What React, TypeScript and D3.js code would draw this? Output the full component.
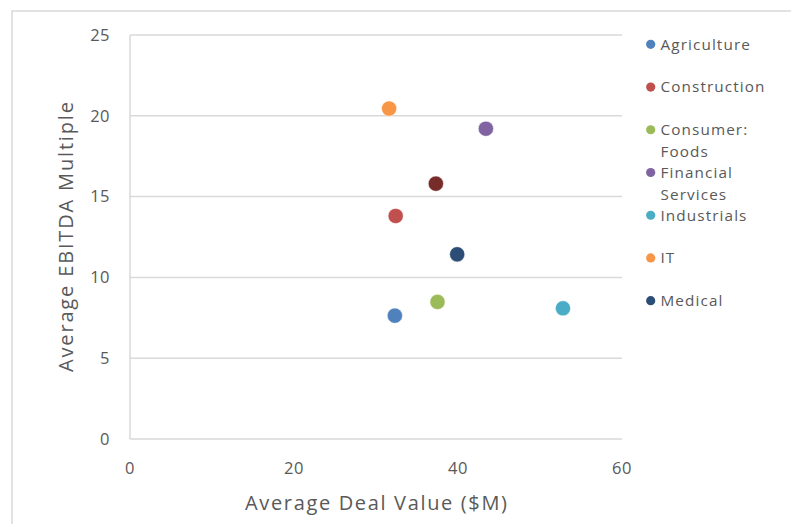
import React from "react";
import * as d3 from "d3";

const categories = ["Agriculture", "Construction", "Consumer: Foods", "Financial Services", "Industrials", "IT", "Medical", "Other"];
const dealValues = [32.3, 32.4, 37.5, 43.4, 52.8, 31.6, 39.9, 37.3];
const ebitdaMultiples = [7.63, 13.8, 8.48, 19.2, 8.09, 20.45, 11.43, 15.8];
const colors = ["#4f81bd", "#c0504d", "#9bbb59", "#8064a2", "#4bacc6", "#f79646", "#2c4d75", "#772c2a"];
const legendLines = [["Agriculture"], ["Construction"], ["Consumer:", "Foods"], ["Financial", "Services"], ["Industrials"], ["IT"], ["Medical"]];
const xTicks = [0, 20, 40, 60];
const yTicks = [0, 5, 10, 15, 20, 25];

const W = 791;
const H = 524;
const FONT = "'Open Sans', 'Noto Sans', sans-serif";
const TEXT = "#595959";

export default function App() {
  const x = d3.scaleLinear().domain([0, 60]).range([130, 622]);
  const y = d3.scaleLinear().domain([0, 25]).range([439, 35]);
  const legendY = d3.scaleLinear().domain([0, 6]).range([44.3, 300.7]);

  return (
    <svg width={W} height={H} style={{ position: "absolute", left: 0, top: 0, background: "#fff" }} fontFamily={FONT}>
      <rect x={12} y={11} width={W + 20} height={H + 20} fill="#fff" stroke="#d9d9d9" strokeWidth={1.5} />
      {yTicks.map((t) => (
        <line key={"g" + t} x1={x(0)} x2={x(60)} y1={y(t)} y2={y(t)} stroke="#d9d9d9" strokeWidth={1.5} />
      ))}
      <line x1={x(0)} x2={x(0)} y1={y(0)} y2={y(25)} stroke="#d9d9d9" strokeWidth={1.5} />
      {yTicks.map((t) => (
        <text key={"yt" + t} x={110} y={y(t)} dy="0.35em" textAnchor="end" fontSize={16.5} fill={TEXT} letterSpacing={0.5}>
          {t}
        </text>
      ))}
      {xTicks.map((t) => (
        <text key={"xt" + t} x={x(t)} y={468} dy="0.35em" textAnchor="middle" fontSize={16.5} fill={TEXT} letterSpacing={0.5}>
          {t}
        </text>
      ))}
      <text x={245} y={503} dy="0.35em" fontSize={20} fill={TEXT} textLength={262} lengthAdjust="spacing">
        Average Deal Value ($M)
      </text>
      <text
        transform={`translate(66,${372}) rotate(-90)`}
        dy="0.35em"
        fontSize={20}
        fill={TEXT}
        textLength={270}
        lengthAdjust="spacing"
      >
        Average EBITDA Multiple
      </text>
      {categories.map((c, i) => (
        <circle key={c} cx={x(dealValues[i])} cy={y(ebitdaMultiples[i])} r={7.6} fill={colors[i]} stroke="#fff" strokeWidth={0.5} />
      ))}
      {legendLines.map((lines, i) => (
        <g key={"lg" + i}>
          <circle cx={650.7} cy={legendY(i)} r={4.6} fill={colors[i]} />
          {lines.map((l, j) => (
            <text key={j} x={660.5} y={legendY(i) + j * 22} dy="0.35em" fontSize={15.3} fill={TEXT} letterSpacing={1.1}>
              {l}
            </text>
          ))}
        </g>
      ))}
    </svg>
  );
}
